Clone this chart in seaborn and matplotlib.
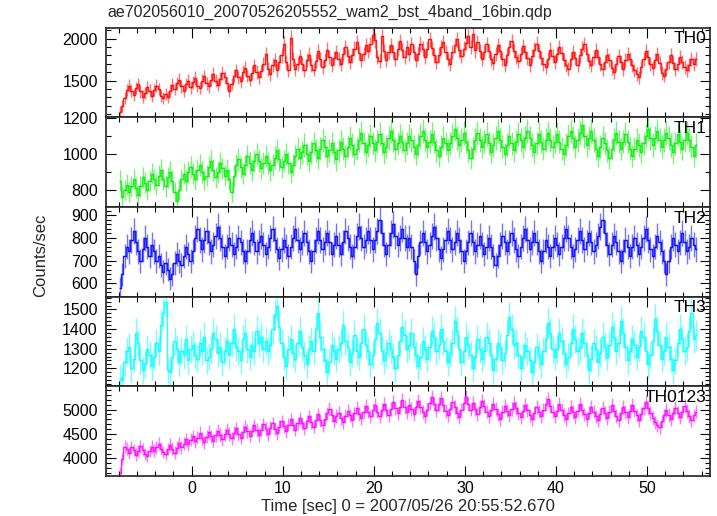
import numpy as np
import seaborn as sns
import matplotlib
matplotlib.use('Agg')
import matplotlib.pyplot as plt
from matplotlib.ticker import MultipleLocator

# light curve, 0.25 s bins starting at t = -8.0 s
t_start = -8.0
bin_width = 0.25

th0 = [
    1130, 1200, 1290, 1390, 1440, 1380, 1330, 1410, 1460, 1370, 1310, 1350, 1420, 1380, 1320, 1390,
    1440, 1400, 1320, 1290, 1340, 1300, 1380, 1450, 1400, 1470, 1510, 1430, 1380, 1460, 1500, 1420,
    1480, 1530, 1440, 1410, 1500, 1550, 1470, 1430, 1510, 1580, 1500, 1450, 1520, 1590, 1540, 1470,
    1380, 1460, 1560, 1620, 1540, 1490, 1600, 1650, 1560, 1510, 1590, 1680, 1600, 1540, 1610, 1700,
    1820, 1640, 1580, 1690, 1740, 1620, 1720, 1800, 1940, 1720, 1620, 2010, 1760, 1640, 1700, 1790,
    1700, 1620, 1740, 1810, 1690, 1630, 1730, 1850, 1760, 1660, 1740, 1870, 1780, 1690, 1770, 1840,
    1760, 1700, 1820, 1900, 1790, 1720, 1800, 1880, 1960, 1830, 1740, 1820, 1920, 1850, 1930, 2040,
    1980, 1780, 1730, 2030, 1850, 1750, 1840, 1920, 1840, 1760, 1880, 1970, 1860, 1780, 1900, 1820,
    1930, 1840, 1740, 1820, 1940, 1880, 1780, 1880, 1990, 1890, 1800, 1720, 1810, 1900, 1960, 1840,
    1760, 1700, 1840, 1920, 1990, 1860, 1790, 1880, 1950, 2030, 1900, 2050, 1860, 1960, 1850, 1760,
    1840, 1930, 1850, 1760, 1710, 1820, 1920, 1850, 1760, 1690, 1800, 1900, 1970, 1850, 1780, 1730,
    1820, 1910, 1840, 1770, 1690, 1790, 1870, 1940, 1850, 1770, 1700, 1660, 1760, 1870, 1790, 1720,
    1820, 1900, 1830, 1750, 1680, 1640, 1760, 1840, 1770, 1690, 1800, 1880, 1930, 1820, 1730, 1680,
    1780, 1860, 1780, 1700, 1640, 1720, 1800, 1740, 1650, 1600, 1700, 1790, 1720, 1640, 1740, 1820,
    1760, 1680, 1620, 1580, 1540, 1660, 1760, 1850, 1780, 1700, 1650, 1740, 1820, 1710, 1590, 1560,
    1640, 1720, 1800, 1710, 1640, 1700, 1780, 1720, 1660, 1620, 1690, 1760, 1700, 1760,
]

th1 = [
    850, 760, 800, 830, 790, 820, 860, 810, 770, 820, 870, 840, 800, 850, 890, 860,
    830, 880, 910, 860, 820, 870, 900, 850, 790, 740, 800, 860, 890, 850, 900, 930,
    890, 860, 910, 940, 900, 860, 880, 930, 960, 910, 870, 900, 950, 920, 880, 910,
    860, 790, 880, 940, 970, 930, 890, 940, 990, 950, 910, 960, 1000, 960, 920, 950,
    990, 950, 910, 940, 980, 1020, 970, 930, 960, 1000, 950, 900, 940, 990, 1030, 980,
    1010, 1050, 1000, 960, 1010, 1060, 1020, 980, 1030, 1080, 1040, 990, 1020, 1060, 1010, 970,
    1020, 1070, 1030, 990, 1040, 1090, 1050, 1000, 1030, 1080, 1120, 1060, 1010, 1050, 1100, 1060,
    1020, 1070, 1110, 1060, 1010, 1040, 1090, 1130, 1080, 1030, 1060, 1100, 1070, 1020, 1060, 1100,
    1080, 1040, 1000, 1050, 1100, 1130, 1080, 1040, 1070, 1110, 1070, 1020, 990, 1040, 1090, 1060,
    1020, 1060, 1100, 1140, 1090, 1050, 1080, 1120, 1070, 1020, 980, 1030, 1080, 1120, 1080, 1040,
    1070, 1110, 1060, 1010, 1050, 1090, 1130, 1080, 1040, 1000, 1050, 1100, 1060, 1020, 1070, 1110,
    1080, 1040, 1090, 1130, 1090, 1050, 1010, 1060, 1110, 1070, 1030, 1080, 1120, 1080, 1040, 1070,
    1110, 1070, 1030, 1000, 1050, 1100, 1130, 1090, 1040, 1080, 1120, 1160, 1100, 1050, 1090, 1130,
    1080, 1030, 990, 1040, 1090, 1060, 1020, 980, 1030, 1080, 1120, 1070, 1030, 1070, 1110, 1070,
    1030, 990, 1030, 1080, 1050, 1010, 1060, 1100, 1140, 1090, 1050, 1090, 1130, 1080, 1040, 1080,
    1120, 1090, 1050, 1010, 1060, 1110, 1070, 1030, 1080, 1120, 1080, 1040, 990, 1050,
]

th2 = [
    580, 640, 720, 760, 740, 790, 830, 780, 740, 700, 750, 800, 760, 720, 770, 740,
    700, 720, 680, 650, 690, 660, 620, 640, 690, 730, 700, 680, 720, 760, 730, 700,
    740, 800, 840, 790, 750, 790, 830, 780, 740, 770, 810, 850, 800, 760, 720, 760,
    800, 770, 730, 760, 800, 780, 740, 700, 740, 790, 820, 780, 740, 780, 810, 770,
    730, 760, 800, 840, 790, 750, 710, 750, 790, 760, 720, 760, 800, 840, 790, 750,
    780, 820, 780, 740, 700, 740, 790, 830, 790, 750, 780, 820, 780, 730, 770, 810,
    770, 730, 780, 830, 800, 760, 720, 760, 810, 850, 800, 760, 790, 830, 790, 750,
    790, 830, 880, 820, 770, 730, 770, 820, 860, 810, 770, 800, 840, 800, 760, 800,
    760, 700, 640, 720, 780, 820, 780, 740, 770, 810, 850, 800, 750, 710, 750, 790,
    830, 790, 750, 780, 820, 790, 740, 700, 740, 780, 820, 780, 740, 770, 810, 770,
    730, 760, 800, 760, 720, 680, 720, 770, 810, 780, 740, 780, 820, 790, 750, 720,
    760, 800, 840, 790, 750, 780, 820, 780, 740, 700, 740, 790, 760, 720, 760, 800,
    770, 730, 760, 800, 840, 800, 760, 720, 750, 790, 830, 790, 750, 780, 820, 780,
    740, 770, 810, 850, 880, 820, 770, 730, 770, 810, 780, 740, 700, 740, 790, 760,
    720, 760, 800, 770, 730, 760, 800, 840, 790, 750, 720, 760, 810, 780, 740, 700,
    640, 700, 760, 800, 770, 740, 780, 820, 780, 740, 760, 800, 770, 750,
]

th3 = [
    1150, 1140, 1230, 1290, 1310, 1200, 1250, 1380, 1330, 1240, 1190, 1220, 1300, 1270, 1210, 1260,
    1330, 1290, 1420, 1480, 1540, 1190, 1180, 1260, 1340, 1300, 1230, 1290, 1270, 1350, 1240, 1300,
    1320, 1270, 1250, 1330, 1290, 1360, 1240, 1260, 1300, 1380, 1350, 1280, 1310, 1230, 1290, 1340,
    1270, 1330, 1400, 1310, 1290, 1240, 1350, 1380, 1300, 1260, 1320, 1290, 1390, 1330, 1360, 1300,
    1340, 1290, 1320, 1400, 1470, 1520, 1410, 1330, 1260, 1210, 1300, 1350, 1280, 1250, 1330, 1390,
    1310, 1270, 1220, 1300, 1340, 1290, 1400, 1480, 1360, 1300, 1240, 1180, 1230, 1320, 1290, 1250,
    1300, 1330, 1420, 1340, 1310, 1230, 1280, 1370, 1290, 1260, 1330, 1400, 1320, 1290, 1220, 1270,
    1350, 1430, 1380, 1290, 1240, 1280, 1330, 1300, 1260, 1200, 1270, 1340, 1410, 1370, 1300, 1320,
    1380, 1310, 1270, 1210, 1260, 1340, 1300, 1250, 1310, 1390, 1360, 1290, 1320, 1400, 1340, 1290,
    1230, 1280, 1330, 1440, 1390, 1300, 1230, 1290, 1360, 1320, 1270, 1200, 1260, 1350, 1300, 1250,
    1290, 1360, 1330, 1270, 1190, 1250, 1330, 1310, 1240, 1280, 1370, 1460, 1400, 1320, 1330, 1270,
    1200, 1260, 1320, 1290, 1240, 1180, 1230, 1310, 1270, 1220, 1290, 1350, 1430, 1380, 1300, 1260,
    1300, 1380, 1340, 1280, 1220, 1260, 1330, 1400, 1350, 1290, 1310, 1380, 1330, 1270, 1190, 1250,
    1330, 1300, 1230, 1280, 1360, 1310, 1260, 1320, 1410, 1360, 1290, 1330, 1440, 1380, 1310, 1240,
    1290, 1350, 1320, 1260, 1310, 1390, 1360, 1290, 1220, 1270, 1340, 1450, 1390, 1320, 1250, 1290,
    1360, 1310, 1250, 1190, 1240, 1330, 1400, 1350, 1290, 1310, 1390, 1480, 1350, 1370,
]

th0123 = [
    3700, 3990, 4240, 4200, 4110, 4230, 4170, 4080, 4150, 4250, 4180, 4090, 4050, 4150, 4240, 4160,
    4230, 4300, 4200, 4130, 4090, 4190, 4280, 4200, 4120, 4220, 4310, 4230, 4300, 4390, 4290, 4380,
    4450, 4350, 4420, 4520, 4410, 4330, 4440, 4540, 4450, 4360, 4470, 4570, 4480, 4390, 4490, 4580,
    4500, 4410, 4520, 4620, 4500, 4420, 4540, 4650, 4560, 4460, 4570, 4680, 4580, 4480, 4590, 4700,
    4600, 4500, 4630, 4720, 4610, 4520, 4650, 4760, 4660, 4560, 4690, 4800, 4690, 4590, 4720, 4820,
    4720, 4620, 4760, 4860, 4750, 4650, 4790, 4900, 4780, 4680, 4810, 4920, 5020, 4890, 4770, 4870,
    4940, 4820, 4740, 4870, 4980, 4880, 4790, 4920, 5040, 4910, 4820, 4950, 5080, 4960, 4860, 4990,
    5090, 4960, 4860, 5000, 5120, 4990, 4880, 5020, 5150, 5030, 4920, 5060, 5190, 5060, 4950, 5100,
    5010, 4900, 5050, 5170, 5060, 4950, 4860, 5000, 5130, 5250, 5110, 4990, 5120, 5240, 5100, 4970,
    4880, 5020, 5150, 5050, 4940, 4850, 4990, 5130, 5260, 5120, 5000, 5140, 5020, 4910, 5050, 5180,
    5080, 4960, 4870, 5000, 5120, 5010, 4900, 4810, 4950, 5080, 4980, 4880, 5010, 5140, 5030, 4920,
    4840, 4970, 5100, 4990, 4880, 4800, 4930, 5060, 4960, 4860, 4990, 5120, 5220, 5080, 4960, 4860,
    4980, 5110, 5000, 4890, 4800, 4920, 5050, 4950, 4850, 4980, 5110, 5000, 4900, 4810, 4940, 5060,
    4960, 4860, 4780, 4900, 5030, 4930, 4830, 4960, 5090, 4980, 4870, 4790, 4920, 5050, 4950, 4850,
    4970, 5090, 4980, 4880, 4790, 4910, 5040, 5150, 5040, 4930, 4830, 4740, 4680, 4640, 4760, 4880,
    4990, 4890, 4800, 4920, 5040, 4940, 4840, 4960, 5080, 4970, 4870, 4780, 4880, 4960,
]

bands = ['TH0', 'TH1', 'TH2', 'TH3', 'TH0123']
series = [th0, th1, th2, th3, th0123]
colors = ['#ff0000', '#00ee00', '#0000ff', '#00ffff', '#ff00ff']
ylims = [(1060, 2128), (704, 1204), (540, 936), (1108, 1565), (3640, 5475)]
major = [500, 200, 100, 100, 500]
minor = [100, 100, 20, 20, 100]

sns.set_theme(style='ticks')
plt.rcParams['font.family'] = ['Liberation Sans', 'DejaVu Sans']

fig, axes = plt.subplots(5, 1, figsize=(7.17, 5.16), dpi=100, sharex=True)
fig.subplots_adjust(left=0.148, right=0.990, top=0.946, bottom=0.0775, hspace=0)

for ax, name, vals, col, yl, mj, mn in zip(axes, bands, series, colors, ylims, major, minor):
    rate = np.array(vals, dtype=float)
    t = t_start + bin_width * (np.arange(len(rate)) + 0.5)
    err = np.sqrt(rate * bin_width) / bin_width   # poisson error of each bin
    ax.errorbar(t, rate, xerr=bin_width / 2, yerr=err, fmt='none',
                ecolor=col, elinewidth=1.0, alpha=0.55)
    sns.lineplot(x=t, y=rate, ax=ax, color=col, lw=1.0, alpha=0.85,
                 drawstyle='steps-mid', errorbar=None)
    ax.set_ylim(*yl)
    ax.set_xlim(-9.4, 56.9)
    ax.yaxis.set_major_locator(MultipleLocator(mj))
    ax.yaxis.set_minor_locator(MultipleLocator(mn))
    ax.xaxis.set_major_locator(MultipleLocator(10))
    ax.xaxis.set_minor_locator(MultipleLocator(2))
    ax.tick_params(which='both', direction='in', top=True, right=True,
                   labelsize=11.5, colors='black', width=0.8)
    ax.tick_params(which='major', length=7)
    ax.tick_params(axis='y', pad=6)
    ax.tick_params(which='minor', length=3.5)
    for s in ax.spines.values():
        s.set_linewidth(1.2)
        s.set_color('#222222')
    ax.set_ylabel('')
    ax.text(0.994, 0.96, name, transform=ax.transAxes, ha='right', va='top',
            fontsize=12.5, color='black')

axes[-1].set_xlabel('Time [sec] 0 = 2007/05/26 20:55:52.670', fontsize=12, labelpad=2)
fig.text(0.056, 0.506, 'Counts/sec', rotation=90, ha='center', va='center', fontsize=12)
fig.text(0.150, 0.975, 'ae702056010_20070526205552_wam2_bst_4band_16bin.qdp',
         ha='left', va='center', fontsize=11.5)

fig.savefig('out.png', dpi=100)
